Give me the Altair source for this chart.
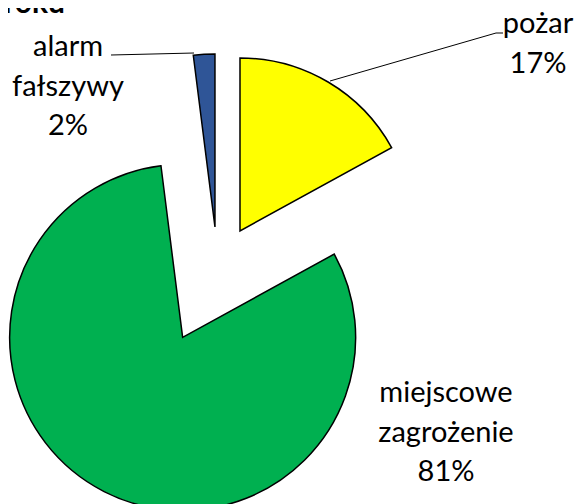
import altair as alt
import pandas as pd

# ---- data ----
categories = ["pożar", "miejscowe zagrożenie", "alarm fałszywy"]
percent = [17, 81, 2]
label_text = ["pożar\n17%", "miejscowe\nzagrożenie\n81%", "alarm\nfałszywy\n2%"]
title_text = "roku"

# ---- styles / layout ----
colors = ["#FFFF00", "#00B050", "#2F5597"]
W, H = 570, 496
CX, CY = 209.6, 260.8
R = 173
explode = {"pożar": 44, "miejscowe zagrożenie": 77, "alarm fałszywy": 42}
label_pos = {"pożar": (530, 25), "miejscowe zagrożenie": (438, 394), "alarm fałszywy": (60, 48)}
leaders = [
    ((322, 73), (488, 25)),
    ((488, 25), (495, 25)),
    ((103, 47), (186, 45)),
]
FONT = "Lato"

pie_df = pd.DataFrame({
    "cat": categories,
    "value": percent,
    "order": list(range(len(categories))),
    "explode": [explode[c] for c in categories],
})

pie = (
    alt.Chart(pie_df)
    .transform_joinaggregate(total="sum(value)")
    .transform_window(cum="sum(value)", sort=[alt.SortField("order")], frame=[None, 0])
    .transform_calculate(
        t1="(datum.cum - datum.value) / datum.total * 2 * PI",
        t2="datum.cum / datum.total * 2 * PI",
    )
    .transform_calculate(mid="(datum.t1 + datum.t2) / 2")
    .transform_calculate(
        px=f"{CX} + datum.explode * sin(datum.mid)",
        py=f"{CY} - datum.explode * cos(datum.mid)",
    )
    .mark_arc(radius=R, stroke="black", strokeWidth=1.5)
    .encode(
        x=alt.X("px:Q", scale=None, axis=None),
        y=alt.Y("py:Q", scale=None, axis=None),
        theta=alt.Theta("t1:Q", scale=None),
        theta2="t2:Q",
        color=alt.Color("cat:N", scale=alt.Scale(domain=categories, range=colors), legend=None),
    )
)

lab_df = pd.DataFrame({
    "txt": label_text,
    "lx": [label_pos[c][0] for c in categories],
    "ly": [label_pos[c][1] for c in categories],
})
labels = (
    alt.Chart(lab_df)
    .mark_text(font=FONT, fontSize=29, color="black", align="center", baseline="alphabetic",
               lineBreak="\n", lineHeight=39.5)
    .encode(x=alt.X("lx:Q", scale=None, axis=None), y=alt.Y("ly:Q", scale=None, axis=None), text="txt:N")
)

lead_df = pd.DataFrame({
    "x1": [a[0] for a, b in leaders], "y1": [a[1] for a, b in leaders],
    "x2": [b[0] for a, b in leaders], "y2": [b[1] for a, b in leaders],
})
lines = (
    alt.Chart(lead_df)
    .mark_rule(color="black", strokeWidth=1)
    .encode(
        x=alt.X("x1:Q", scale=None, axis=None), y=alt.Y("y1:Q", scale=None, axis=None),
        x2="x2:Q", y2="y2:Q",
    )
)

title_df = pd.DataFrame({"t": [title_text], "tx": [57], "ty": [5]})
title = (
    alt.Chart(title_df)
    .mark_text(font=FONT, fontSize=30, fontWeight="bold", color="black", align="right", baseline="alphabetic")
    .encode(x=alt.X("tx:Q", scale=None, axis=None), y=alt.Y("ty:Q", scale=None, axis=None), text="t:N")
)

chart = (
    alt.layer(lines, pie, labels, title)
    .properties(width=W, height=H, padding=0, autosize=alt.AutoSizeParams(type="none"))
    .configure_view(strokeWidth=0)
)

chart.save("out.html", embed_options={"renderer": "svg", "actions": False})
